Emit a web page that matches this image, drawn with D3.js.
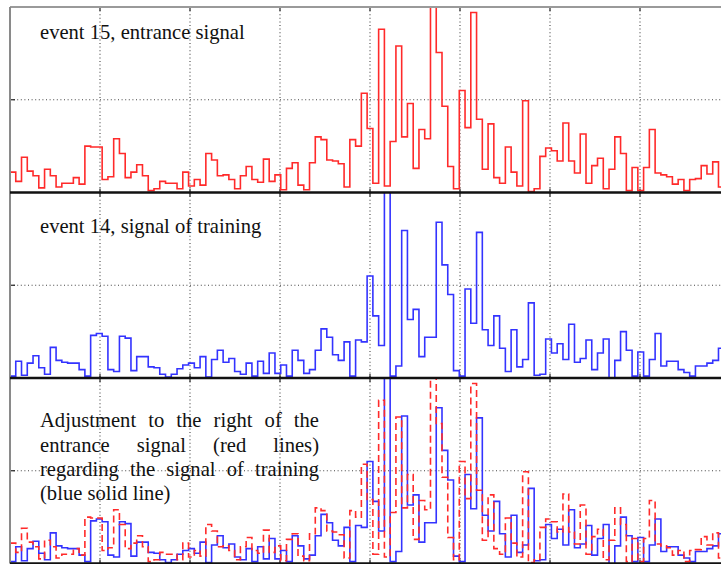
<!DOCTYPE html>
<html><head><meta charset="utf-8">
<script src="https://cdn.jsdelivr.net/npm/d3@7"></script>
<style>html,body{margin:0;padding:0;background:#fff;overflow:hidden}</style>
</head><body>
<svg id="chart" width="721" height="564"></svg>
<script>
// event 15 – entrance signal (red)
const entranceSignal = [
 0.22,0.12,0.38,0.23,0.18,0.05,0.25,0.18,0.06,0.10,
 0.10,0.16,0.09,0.50,0.49,0.49,0.14,0.17,0.58,0.42,
 0.16,0.22,0.30,0.18,0.02,0.04,0.12,0.10,0.10,0.04,
 0.22,0.07,0.14,0.08,0.42,0.35,0.18,0.19,0.14,0.04,
 0.18,0.28,0.14,0.11,0.36,0.12,0.19,0.03,0.26,0.32,
 0.08,0.03,0.32,0.60,0.57,0.35,0.34,0.31,0.06,0.57,
 0.50,1.07,0.69,0.10,1.76,0.07,0.55,1.58,0.60,0.96,
 0.26,0.68,0.58,2.30,1.51,0.93,0.28,0.04,1.10,0.70,
 1.94,0.79,0.25,0.74,0.16,0.10,0.49,0.22,0.07,0.99,
 0.01,0.04,0.39,0.48,0.45,0.34,0.75,0.34,0.21,0.63,
 0.10,0.29,0.37,0.04,0.25,0.60,0.42,0.02,0.27,0.02,
 0.27,0.68,0.21,0.19,0.17,0.09,0.14,0.02,0.14,0.15,
 0.29,0.20,0.33,0.06,0.10];
// event 14 – signal of training (blue)
const trainingSignal = [
 0.02,0.18,0.03,0.16,0.24,0.11,0.04,0.33,0.19,0.17,
 0.16,0.16,0.09,0.02,0.46,0.48,0.45,0.09,0.07,0.45,
 0.43,0.08,0.23,0.23,0.12,0.11,0.04,0.01,0.04,0.10,
 0.14,0.16,0.11,0.23,0.01,0.20,0.30,0.17,0.21,0.07,
 0.04,0.16,0.02,0.18,0.05,0.27,0.05,0.14,0.02,0.30,
 0.19,0.05,0.09,0.30,0.53,0.44,0.25,0.19,0.39,0.02,
 0.41,0.39,1.10,0.67,0.35,2.30,0.02,0.13,1.59,0.63,
 0.74,0.23,0.44,0.44,1.68,1.22,0.90,0.08,0.02,0.96,
 0.59,1.57,0.52,0.35,0.67,0.32,0.07,0.52,0.12,0.20,
 0.81,0.03,0.04,0.42,0.27,0.37,0.20,0.58,0.17,0.21,
 0.41,0.09,0.27,0.42,-0.02,0.19,0.50,0.30,0.02,0.28,
 0.02,0.20,0.48,0.13,0.18,0.18,0.09,0.06,0.02,0.13,
 0.13,0.16,0.19,0.32,0.32];
const sampleStep = 0.064;
const xDomain = [0, 8];
const yDomain = [0, 2];
const xTicks = [1, 2, 3, 4, 5, 6, 7];
const yTicks = [1];
const label1 = "event 15, entrance signal";
const label2 = "event 14, signal of training";
const label3 = ["Adjustment to the right of the", "entrance signal (red lines)", "regarding the signal of training", "(blue solid line)"];

const svg = d3.select("#chart");
const left = 10, right = 730;
const panels = [
  {top: 7, bottom: 192.5},
  {top: 192.5, bottom: 378},
  {top: 378, bottom: 563.5}
];
const x = d3.scaleLinear().domain(xDomain).range([left, right]);
const font = "'Liberation Serif','Times New Roman',serif";

panels.forEach((p, i) => {
  p.y = d3.scaleLinear().domain(yDomain).range([p.bottom, p.top]);
  svg.append("clipPath").attr("id", "clip" + i)
    .append("rect").attr("x", left).attr("y", p.top)
    .attr("width", right - left).attr("height", p.bottom - p.top);
  p.g = svg.append("g");
  // grid
  p.g.selectAll(".vg").data(xTicks).join("line")
    .attr("x1", d => x(d)).attr("x2", d => x(d))
    .attr("y1", p.top).attr("y2", p.bottom)
    .attr("stroke", "#444").attr("stroke-width", 1.1).attr("stroke-dasharray", "1,2.6");
  p.g.selectAll(".hg").data(yTicks).join("line")
    .attr("x1", left).attr("x2", right)
    .attr("y1", d => p.y(d)).attr("y2", d => p.y(d))
    .attr("stroke", "#444").attr("stroke-width", 1.1).attr("stroke-dasharray", "1,2.6");
  // ticks
  p.g.selectAll(".tb").data(xTicks).join("line")
    .attr("x1", d => x(d)).attr("x2", d => x(d))
    .attr("y1", p.bottom).attr("y2", p.bottom - 4)
    .attr("stroke", "#222").attr("stroke-width", 1.2);
  p.g.selectAll(".tt").data(xTicks).join("line")
    .attr("x1", d => x(d)).attr("x2", d => x(d))
    .attr("y1", p.top).attr("y2", p.top + 4)
    .attr("stroke", "#222").attr("stroke-width", 1.2);
  p.g.selectAll(".tl").data(yTicks).join("line")
    .attr("x1", left).attr("x2", left + 5)
    .attr("y1", d => p.y(d)).attr("y2", d => p.y(d))
    .attr("stroke", "#222").attr("stroke-width", 1.2);
  p.lines = svg.append("g").attr("clip-path", `url(#clip${i})`);
});

function stairs(values, y) {
  const pts = values.map((v, i) => [i * sampleStep, v]);
  pts.push([values.length * sampleStep, values[values.length - 1]]);
  return d3.line().x(d => x(d[0])).y(d => y(d[1])).curve(d3.curveStepAfter)(pts);
}

const red = "#ff2a2a", blue = "#3333ff";
panels[0].lines.append("path").attr("d", stairs(entranceSignal, panels[0].y))
  .attr("fill", "none").attr("stroke", red).attr("stroke-width", 1.6);
panels[1].lines.append("path").attr("d", stairs(trainingSignal, panels[1].y))
  .attr("fill", "none").attr("stroke", blue).attr("stroke-width", 1.6);
panels[2].lines.append("path").attr("d", stairs(trainingSignal, panels[2].y))
  .attr("fill", "none").attr("stroke", blue).attr("stroke-width", 1.6);
panels[2].lines.append("path").attr("d", stairs(entranceSignal, panels[2].y))
  .attr("fill", "none").attr("stroke", red).attr("stroke-width", 1.6)
  .attr("stroke-dasharray", "7,4");

// frame
svg.append("line").attr("x1", left).attr("x2", right).attr("y1", panels[0].top).attr("y2", panels[0].top)
  .attr("stroke", "#9a9a9a").attr("stroke-width", 2);
svg.append("line").attr("x1", left).attr("x2", left).attr("y1", panels[0].top).attr("y2", panels[2].bottom)
  .attr("stroke", "#8a8a8a").attr("stroke-width", 2);
panels.forEach(p => {
  svg.append("line").attr("x1", left).attr("x2", right).attr("y1", p.bottom).attr("y2", p.bottom)
    .attr("stroke", "#111").attr("stroke-width", 2.4);
});

// labels
const fs = 20.6;
svg.append("text").attr("x", 40).attr("y", 39).attr("font-family", font).attr("font-size", fs)
  .attr("fill", "#111").text(label1);
svg.append("text").attr("x", 40).attr("y", 233).attr("font-family", font).attr("font-size", fs)
  .attr("fill", "#111").text(label2);

const baselines = [427, 451.5, 475.8, 500];
const jx0 = 40, jx1 = 319;
label3.forEach((line, li) => {
  const words = line.split(" ");
  if (li === label3.length - 1) {
    svg.append("text").attr("x", jx0).attr("y", baselines[li]).attr("font-family", font)
      .attr("font-size", fs).attr("fill", "#111").text(line);
    return;
  }
  const nodes = words.map(w => svg.append("text").attr("y", baselines[li]).attr("font-family", font)
    .attr("font-size", fs).attr("fill", "#111").text(w));
  const widths = nodes.map(n => n.node().getComputedTextLength());
  const total = d3.sum(widths);
  const gap = (jx1 - jx0 - total) / (words.length - 1);
  let cx = jx0;
  nodes.forEach((n, k) => { n.attr("x", cx); cx += widths[k] + gap; });
});
</script>
</body></html>
